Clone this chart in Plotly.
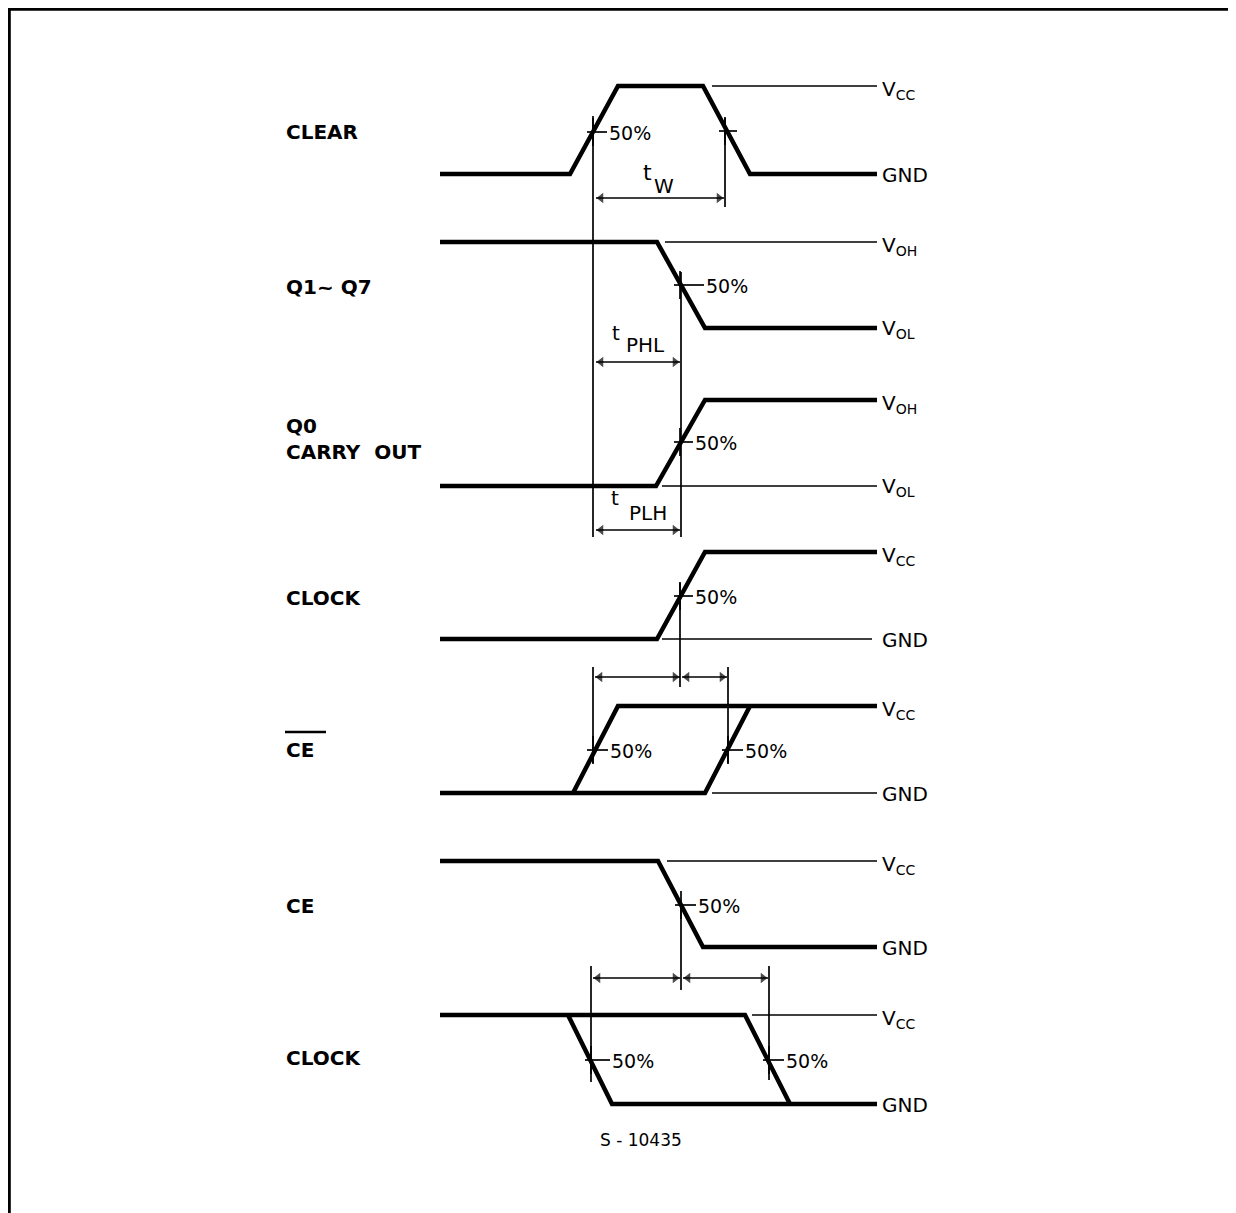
import plotly.graph_objects as go

# ---------------- data (diagram coordinates) ----------------
row_names = ["CLEAR", "Q1~ Q7", "Q0", "CLOCK", "CE_BAR", "CE", "CLOCK2"]
row_high = [86, 242, 400, 552, 706, 861, 1015]
row_low = [174, 328, 486, 639, 793, 947, 1104]
hi_labels = ["V<sub>CC</sub>", "V<sub>OH</sub>", "V<sub>OH</sub>", "V<sub>CC</sub>", "V<sub>CC</sub>", "V<sub>CC</sub>", "V<sub>CC</sub>"]
lo_labels = ["GND", "V<sub>OL</sub>", "V<sub>OL</sub>", "GND", "GND", "GND", "GND"]

# bold waveform segments: (row index, x list, level list)
wave_segments = [
    (0, [440, 570, 618, 703, 750, 877], [0, 0, 1, 1, 0, 0]),
    (1, [440, 657, 705, 877], [1, 1, 0, 0]),
    (2, [440, 656, 705, 877], [0, 0, 1, 1]),
    (3, [440, 657, 705, 877], [0, 0, 1, 1]),
    (4, [440, 705, 750], [0, 0, 1]),
    (4, [573, 618, 877], [0, 1, 1]),
    (5, [440, 658, 703, 877], [1, 1, 0, 0]),
    (6, [440, 745, 790], [1, 1, 0]),
    (6, [568, 612, 877], [1, 0, 0]),
]
# thin reference lines: (row, level, x start, x end)
ref_lines = [
    (0, 1, 712, 877), (1, 1, 665, 877), (2, 0, 662, 877),
    (3, 0, 662, 872), (4, 0, 712, 877), (5, 1, 667, 877), (6, 1, 752, 877),
]
# 50 % crossing points
pct_x = [593, 725, 680, 680, 680, 593, 728, 681, 591, 769]
pct_y = [132, 131, 285, 442, 596, 750, 750, 905, 1060, 1060]
pct_text = [True, False, True, True, True, True, True, True, True, True]
pct_dash = [14, 12, 24, 13, 13, 15, 15, 15, 19, 15]

# vertical reference lines (x, y top, y bottom)
vlines = [(593, 116, 537), (725, 118, 207), (681, 272, 537),
          (680, 583, 687), (593, 667, 763), (728, 667, 763),
          (681, 905, 990), (591, 966, 1082), (769, 966, 1080)]
# dimension arrows (x start, x end, y)
dims = [(596, 724, 198), (596, 680, 362), (596, 680, 530),
        (595, 680, 677), (682, 727, 677), (593, 680, 978), (683, 768, 978)]

left_labels = ["CLEAR", "Q1~ Q7", "Q0<br>CARRY  OUT", "CLOCK", "CE", "CE", "CLOCK"]
left_label_y = [132, 287, 439, 598, 750, 906, 1058]

# the page body adds an 8 px offset; shift the visible ranges to compensate
OFF = 8
FONT = "DejaVu Sans"

fig = go.Figure()
BLACK = "#000000"

fig.add_trace(go.Scatter(x=[9.3, 9.3, 1244], y=[1221, 9.3, 9.3], mode="lines",
                         line=dict(color=BLACK, width=3), hoverinfo="skip"))

for r, xs, lv in wave_segments:
    ys = [row_low[r] + l * (row_high[r] - row_low[r]) for l in lv]
    fig.add_trace(go.Scatter(x=xs, y=ys, mode="lines",
                             line=dict(color=BLACK, width=4.5), hoverinfo="skip"))

for r, l, x0, x1 in ref_lines:
    y = row_low[r] + l * (row_high[r] - row_low[r])
    fig.add_trace(go.Scatter(x=[x0, x1], y=[y, y], mode="lines",
                             line=dict(color=BLACK, width=1.5), hoverinfo="skip"))

for x, y0, y1 in vlines:
    fig.add_trace(go.Scatter(x=[x, x], y=[y0, y1], mode="lines",
                             line=dict(color=BLACK, width=1.7), hoverinfo="skip"))

for x, y, has_t, d in zip(pct_x, pct_y, pct_text, pct_dash):
    fig.add_trace(go.Scatter(x=[x - 6, x + d], y=[y, y], mode="lines",
                             line=dict(color=BLACK, width=1.7), hoverinfo="skip"))
    fig.add_trace(go.Scatter(x=[x, x], y=[y - 14, y + 14], mode="lines",
                             line=dict(color=BLACK, width=1.7), hoverinfo="skip"))
    if has_t:
        fig.add_annotation(x=x + d, y=y + 1, text="50%", showarrow=False,
                           xanchor="left", yanchor="middle",
                           font=dict(family=FONT, size=19, color=BLACK))

for x0, x1, y in dims:
    fig.add_trace(go.Scatter(x=[x0, x1], y=[y, y], mode="lines",
                             line=dict(color=BLACK, width=1.5), hoverinfo="skip"))
    fig.add_trace(go.Scatter(x=[x0 + 5, x1 - 5], y=[y, y], mode="markers",
                             marker=dict(symbol=["triangle-left", "triangle-right"],
                                         size=[9, 9], color=BLACK, line=dict(width=0)),
                             hoverinfo="skip"))

# timing parameter names
tnames = ["t", "W", "t", "PHL", "t", "PLH"]
tpos = [(641, 172, 22), (652, 186, 20), (610, 333, 20), (624, 345, 20), (609, 498, 20), (627, 513, 20)]
for s, (x, y, fs) in zip(tnames, tpos):
    fig.add_annotation(x=x, y=y, text=s, showarrow=False, xanchor="left", yanchor="middle",
                       font=dict(family=FONT, size=fs, color=BLACK))

for s, y in zip(left_labels, left_label_y):
    fig.add_annotation(x=284, y=y, text="<b>" + s + "</b>", showarrow=False,
                       xanchor="left", yanchor="middle", align="left",
                       font=dict(family=FONT, size=20, color=BLACK))
fig.add_trace(go.Scatter(x=[285, 326], y=[732, 732], mode="lines",
                         line=dict(color=BLACK, width=2.5), hoverinfo="skip"))

for r in range(len(row_names)):
    fig.add_annotation(x=880, y=row_high[r] + 4, text=hi_labels[r], showarrow=False,
                       xanchor="left", yanchor="middle",
                       font=dict(family=FONT, size=20, color=BLACK))
    fig.add_annotation(x=880, y=row_low[r] + 1, text=lo_labels[r], showarrow=False,
                       xanchor="left", yanchor="middle",
                       font=dict(family=FONT, size=20, color=BLACK))

fig.add_annotation(x=641, y=1140, text="S - 10435", showarrow=False,
                   xanchor="center", yanchor="middle",
                   font=dict(family=FONT, size=17, color=BLACK))

fig.update_layout(
    width=1236, height=1213, margin=dict(l=0, r=0, t=0, b=0),
    paper_bgcolor="white", plot_bgcolor="white", showlegend=False,
    xaxis=dict(range=[OFF, 1236 + OFF], visible=False, fixedrange=True),
    yaxis=dict(range=[1213 + OFF, OFF], visible=False, fixedrange=True),
)
fig.write_html("out.html", config={"displayModeBar": False})
